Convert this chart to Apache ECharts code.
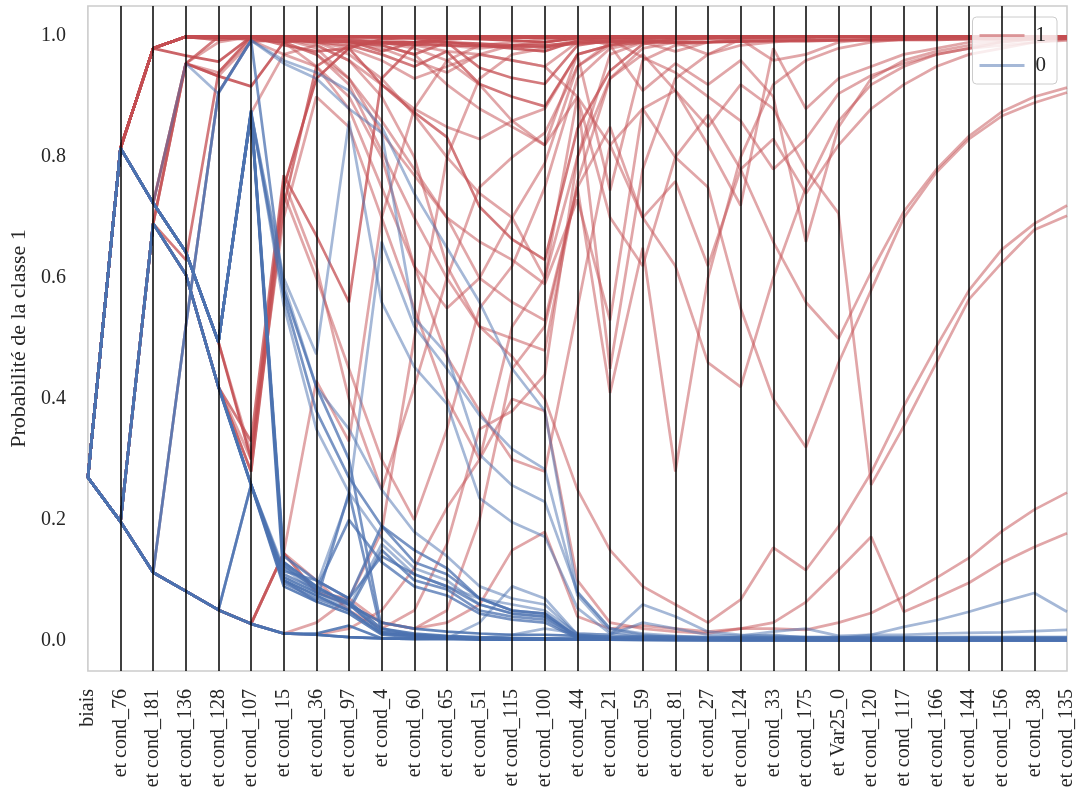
<!DOCTYPE html>
<html>
<head>
<meta charset="utf-8">
<script src="https://cdn.jsdelivr.net/npm/echarts@6/dist/echarts.min.js"></script>
<style>
  html, body { margin: 0; padding: 0; background: #ffffff; }
  #chart { width: 1078px; height: 797px; }
</style>
</head>
<body>
<div id="chart"></div>
<script>
// Steps of the cumulative model: intercept, then each condition added in turn
const categories = [
  'biais', 'et cond_76', 'et cond_181', 'et cond_136', 'et cond_128', 'et cond_107',
  'et cond_15', 'et cond_36', 'et cond_97', 'et cond_4', 'et cond_60', 'et cond_65',
  'et cond_51', 'et cond_115', 'et cond_100', 'et cond_44', 'et cond_21', 'et cond_59',
  'et cond_81', 'et cond_27', 'et cond_124', 'et cond_33', 'et cond_175', 'et Var25_0',
  'et cond_120', 'et cond_117', 'et cond_166', 'et cond_144', 'et cond_156', 'et cond_38',
  'et cond_135'
];

const yTickValues = [0, 0.2, 0.4, 0.6, 0.8, 1.0];

// Predicted probability of class 1 after each step, samples of class 1
const classOnePaths = [
  [0.27, 0.815, 0.98, 0.999, 1, 1, 1, 1, 1, 1, 1, 1, 1, 1, 1, 1, 1, 1, 1, 1, 1, 1, 1, 1, 1, 1, 1, 1, 1, 1, 1],
  [0.27, 0.815, 0.98, 0.999, 0.999, 0.999, 0.998, 0.999, 0.999, 0.999, 0.998, 0.997, 0.995, 0.993, 0.99, 0.997, 0.998, 0.999, 0.999, 0.999, 0.999, 0.999, 0.999, 1, 1, 1, 1, 1, 1, 1, 1],
  [0.27, 0.815, 0.98, 0.968, 0.958, 0.999, 0.999, 0.999, 0.999, 0.998, 0.996, 0.99, 0.985, 0.98, 0.975, 0.993, 0.996, 0.998, 0.997, 0.999, 0.999, 0.999, 0.999, 0.999, 1, 1, 1, 1, 1, 1, 1],
  [0.27, 0.815, 0.724, 0.955, 0.934, 0.917, 0.99, 0.998, 0.999, 0.999, 0.999, 0.998, 0.998, 0.998, 0.997, 0.999, 0.999, 0.999, 0.999, 0.999, 1, 1, 1, 1, 1, 1, 1, 1, 1, 1, 1],
  [0.27, 0.197, 0.69, 0.955, 0.999, 0.999, 0.999, 0.999, 0.999, 0.999, 0.999, 0.999, 0.998, 0.998, 0.998, 0.999, 0.999, 1, 1, 1, 1, 1, 1, 1, 1, 1, 1, 1, 1, 1, 1],
  [0.27, 0.197, 0.69, 0.63, 0.94, 0.999, 0.996, 0.99, 0.992, 0.975, 0.99, 0.995, 0.997, 0.998, 0.998, 0.999, 0.999, 0.999, 0.999, 1, 1, 1, 1, 1, 1, 1, 1, 1, 1, 1, 1],
  [0.27, 0.815, 0.98, 0.999, 0.994, 0.999, 0.985, 0.975, 0.98, 0.92, 0.874, 0.833, 0.718, 0.664, 0.63, 0.847, 0.943, 0.987, 0.995, 0.997, 0.999, 0.999, 0.999, 0.999, 1, 1, 1, 1, 1, 1, 1],
  [0.27, 0.815, 0.98, 0.999, 0.999, 0.994, 0.99, 0.993, 0.99, 0.985, 0.97, 0.99, 0.948, 0.931, 0.921, 0.985, 0.993, 0.997, 0.998, 0.999, 0.999, 0.999, 1, 1, 1, 1, 1, 1, 1, 1, 1],
  [0.27, 0.815, 0.98, 0.999, 0.999, 0.999, 0.995, 0.99, 0.985, 0.97, 0.95, 0.975, 0.921, 0.9, 0.884, 0.97, 0.985, 0.995, 0.998, 0.999, 0.999, 1, 1, 1, 1, 1, 1, 1, 1, 1, 1],
  [0.27, 0.815, 0.724, 0.643, 0.494, 0.3, 0.75, 0.93, 0.98, 0.995, 0.998, 0.999, 0.999, 0.999, 0.999, 0.999, 1, 1, 1, 1, 1, 1, 1, 1, 1, 1, 1, 1, 1, 1, 1],
  [0.27, 0.197, 0.69, 0.606, 0.42, 0.28, 0.72, 0.95, 0.985, 0.99, 0.99, 0.997, 0.999, 0.999, 0.998, 0.999, 0.999, 1, 1, 1, 1, 1, 1, 1, 1, 1, 1, 1, 1, 1, 1],
  [0.27, 0.197, 0.69, 0.606, 0.42, 0.33, 0.77, 0.67, 0.56, 0.93, 0.985, 0.995, 0.997, 0.998, 0.998, 0.999, 0.999, 0.999, 1, 1, 1, 1, 1, 1, 1, 1, 1, 1, 1, 1, 1],
  [0.27, 0.197, 0.113, 0.082, 0.051, 0.028, 0.145, 0.43, 0.33, 0.7, 0.88, 0.96, 0.985, 0.99, 0.995, 0.998, 0.999, 0.999, 1, 1, 1, 1, 1, 1, 1, 1, 1, 1, 1, 1, 1],
  [0.27, 0.197, 0.113, 0.082, 0.051, 0.028, 0.145, 0.08, 0.07, 0.18, 0.5, 0.8, 0.93, 0.97, 0.98, 0.995, 0.998, 0.999, 1, 1, 1, 1, 1, 1, 1, 1, 1, 1, 1, 1, 1],
  [0.27, 0.815, 0.98, 0.999, 0.999, 0.999, 0.995, 0.99, 0.98, 0.96, 0.93, 0.95, 0.97, 0.96, 0.95, 0.9, 0.82, 0.88, 0.8, 0.75, 0.55, 0.4, 0.32, 0.46, 0.58, 0.7, 0.775, 0.83, 0.868, 0.89, 0.907],
  [0.27, 0.815, 0.98, 0.999, 0.999, 0.999, 0.998, 0.995, 0.99, 0.985, 0.97, 0.92, 0.88, 0.85, 0.82, 0.9, 0.7, 0.62, 0.8, 0.87, 0.78, 0.66, 0.56, 0.5, 0.61, 0.71, 0.78, 0.835, 0.875, 0.9, 0.915],
  [0.27, 0.815, 0.724, 0.643, 0.494, 0.873, 0.97, 0.985, 0.96, 0.9, 0.8, 0.62, 0.52, 0.47, 0.4, 0.25, 0.15, 0.09, 0.06, 0.03, 0.068, 0.154, 0.117, 0.189, 0.278, 0.388, 0.487, 0.58, 0.647, 0.69, 0.72],
  [0.27, 0.197, 0.69, 0.955, 0.934, 0.99, 0.995, 0.99, 0.97, 0.93, 0.87, 0.8, 0.74, 0.7, 0.6, 0.8, 0.93, 0.97, 0.91, 0.85, 0.92, 0.88, 0.78, 0.707, 0.258, 0.355, 0.46, 0.565, 0.625, 0.68, 0.703],
  [0.27, 0.197, 0.113, 0.082, 0.051, 0.028, 0.012, 0.01, 0.02, 0.05, 0.12, 0.22, 0.3, 0.4, 0.38, 0.1, 0.03, 0.02, 0.015, 0.012, 0.02, 0.02, 0.018, 0.03, 0.046, 0.073, 0.104, 0.137, 0.181, 0.217, 0.245],
  [0.27, 0.197, 0.113, 0.082, 0.051, 0.028, 0.012, 0.03, 0.07, 0.03, 0.02, 0.03, 0.06, 0.15, 0.18, 0.04, 0.02, 0.025, 0.02, 0.015, 0.02, 0.03, 0.064, 0.117, 0.172, 0.048, 0.071, 0.096, 0.129, 0.155, 0.178],
  [0.27, 0.815, 0.98, 0.999, 0.999, 0.999, 0.999, 0.998, 0.995, 0.99, 0.98, 0.96, 0.92, 0.86, 0.82, 0.97, 0.745, 0.96, 0.985, 0.99, 0.995, 0.997, 0.998, 0.999, 0.999, 1, 1, 1, 1, 1, 1],
  [0.27, 0.197, 0.69, 0.606, 0.42, 0.3, 0.7, 0.9, 0.85, 0.7, 0.55, 0.4, 0.3, 0.52, 0.6, 0.9, 0.45, 0.78, 0.93, 0.97, 0.985, 0.99, 0.995, 0.997, 0.998, 0.999, 0.999, 1, 1, 1, 1],
  [0.27, 0.815, 0.98, 0.999, 0.998, 0.995, 0.99, 0.97, 0.93, 0.86, 0.78, 0.7, 0.6, 0.56, 0.53, 0.75, 0.41, 0.65, 0.28, 0.6, 0.8, 0.92, 0.96, 0.98, 0.99, 0.995, 0.997, 0.998, 0.999, 1, 1],
  [0.27, 0.197, 0.113, 0.52, 0.907, 0.993, 0.97, 0.95, 0.9, 0.8, 0.62, 0.47, 0.38, 0.3, 0.28, 0.55, 0.82, 0.7, 0.62, 0.46, 0.42, 0.6, 0.75, 0.86, 0.92, 0.95, 0.97, 0.98, 0.99, 0.995, 0.997],
  [0.27, 0.815, 0.98, 0.999, 0.999, 0.998, 0.995, 0.985, 0.96, 0.92, 0.88, 0.85, 0.83, 0.86, 0.88, 0.97, 0.985, 0.91, 0.955, 0.92, 0.96, 0.9, 0.66, 0.85, 0.93, 0.96, 0.975, 0.985, 0.99, 0.995, 0.997],
  [0.27, 0.815, 0.98, 0.999, 0.999, 0.999, 0.999, 0.998, 0.995, 0.99, 0.985, 0.975, 0.97, 0.96, 0.95, 0.99, 0.995, 0.965, 0.94, 0.9, 0.86, 0.78, 0.83, 0.905, 0.935, 0.955, 0.97, 0.98, 0.985, 0.99, 0.995],
  [0.27, 0.197, 0.69, 0.955, 0.99, 0.999, 0.995, 0.98, 0.93, 0.84, 0.77, 0.7, 0.66, 0.63, 0.59, 0.73, 0.53, 0.88, 0.91, 0.82, 0.72, 0.98, 0.88, 0.93, 0.95, 0.97, 0.98, 0.99, 0.993, 0.996, 0.998],
  [0.27, 0.815, 0.724, 0.955, 0.94, 0.995, 0.999, 0.999, 0.998, 0.995, 0.99, 0.985, 0.98, 0.985, 0.99, 0.998, 0.99, 0.995, 0.99, 0.97, 0.995, 0.96, 0.97, 0.99, 0.995, 0.997, 0.998, 0.999, 1, 1, 1],
  [0.27, 0.197, 0.113, 0.082, 0.051, 0.028, 0.145, 0.08, 0.06, 0.03, 0.02, 0.05, 0.2, 0.45, 0.52, 0.75, 0.85, 0.7, 0.76, 0.62, 0.78, 0.83, 0.74, 0.82, 0.88, 0.92, 0.95, 0.97, 0.98, 0.99, 0.993],
  [0.27, 0.815, 0.98, 0.999, 0.994, 0.999, 0.99, 0.97, 0.92, 0.81, 0.7, 0.6, 0.52, 0.5, 0.48, 0.76, 0.93, 0.98, 0.99, 0.995, 0.997, 0.998, 0.999, 1, 1, 1, 1, 1, 1, 1, 1],
  [0.27, 0.197, 0.69, 0.606, 0.42, 0.28, 0.74, 0.6, 0.45, 0.3, 0.2, 0.35, 0.55, 0.62, 0.75, 0.93, 0.98, 0.99, 0.995, 0.997, 0.998, 0.999, 0.999, 1, 1, 1, 1, 1, 1, 1, 1],
  [0.27, 0.815, 0.724, 0.643, 0.494, 0.31, 0.76, 0.62, 0.4, 0.25, 0.42, 0.6, 0.75, 0.8, 0.84, 0.95, 0.985, 0.99, 0.995, 0.997, 0.998, 0.999, 0.999, 1, 1, 1, 1, 1, 1, 1, 1],
  [0.27, 0.197, 0.113, 0.082, 0.051, 0.028, 0.145, 0.1, 0.05, 0.02, 0.05, 0.16, 0.35, 0.38, 0.44, 0.8, 0.97, 0.99, 0.995, 0.997, 0.998, 0.999, 0.999, 1, 1, 1, 1, 1, 1, 1, 1],
  [0.27, 0.815, 0.98, 0.999, 0.999, 0.999, 0.99, 0.95, 0.88, 0.75, 0.62, 0.55, 0.6, 0.7, 0.79, 0.95, 0.99, 0.997, 0.998, 0.999, 0.999, 1, 1, 1, 1, 1, 1, 1, 1, 1, 1],
  [0.27, 0.815, 0.98, 0.999, 0.999, 0.999, 0.999, 0.997, 0.99, 0.98, 0.96, 0.94, 0.97, 0.985, 0.99, 0.998, 0.985, 0.99, 0.975, 0.99, 0.996, 0.998, 0.999, 1, 1, 1, 1, 1, 1, 1, 1],
  [0.27, 0.815, 0.98, 0.999, 0.999, 0.999, 0.997, 0.995, 0.993, 0.99, 0.99, 0.99, 0.988, 0.985, 0.985, 0.99, 0.992, 0.993, 0.99, 0.99, 0.992, 0.993, 0.993, 0.994, 0.995, 0.995, 0.996, 0.996, 0.996, 0.997, 0.997],
  [0.27, 0.815, 0.98, 0.999, 0.999, 0.998, 0.995, 0.993, 0.99, 0.988, 0.986, 0.985, 0.984, 0.983, 0.982, 0.988, 0.99, 0.99, 0.989, 0.99, 0.991, 0.992, 0.992, 0.993, 0.993, 0.994, 0.994, 0.995, 0.995, 0.995, 0.996]
];
// Number of samples sharing each class-1 path
const classOneCounts = [10, 5, 3, 3, 2, 2, 2, 2, 2, 3, 2, 2, 1, 1, 1, 1, 1, 1, 1, 1, 1, 1, 1, 1, 1, 1, 1, 1, 1, 1, 1, 1, 1, 1, 1, 3, 3];

// Predicted probability of class 1 after each step, samples of class 0
const classZeroPaths = [
  [0.27, 0.197, 0.113, 0.082, 0.051, 0.028, 0.012, 0.01, 0.006, 0.004, 0.003, 0.003, 0.002, 0.002, 0.002, 0.002, 0.002, 0.002, 0.001, 0.001, 0.001, 0.001, 0.001, 0.001, 0.001, 0.001, 0.001, 0.001, 0.001, 0.001, 0.001],
  [0.27, 0.197, 0.113, 0.082, 0.051, 0.028, 0.012, 0.012, 0.025, 0.004, 0.003, 0.003, 0.003, 0.002, 0.002, 0.002, 0.002, 0.002, 0.002, 0.002, 0.002, 0.002, 0.002, 0.002, 0.002, 0.002, 0.002, 0.002, 0.002, 0.002, 0.002],
  [0.27, 0.815, 0.724, 0.643, 0.494, 0.873, 0.1, 0.075, 0.05, 0.012, 0.008, 0.005, 0.004, 0.003, 0.003, 0.002, 0.002, 0.002, 0.002, 0.001, 0.001, 0.001, 0.001, 0.001, 0.001, 0.001, 0.001, 0.001, 0.001, 0.001, 0.001],
  [0.27, 0.197, 0.69, 0.606, 0.42, 0.258, 0.09, 0.065, 0.045, 0.01, 0.006, 0.004, 0.003, 0.003, 0.002, 0.002, 0.002, 0.001, 0.001, 0.001, 0.001, 0.001, 0.001, 0.001, 0.001, 0.001, 0.001, 0.001, 0.001, 0.001, 0.001],
  [0.27, 0.197, 0.113, 0.082, 0.051, 0.258, 0.095, 0.07, 0.05, 0.15, 0.1, 0.085, 0.05, 0.04, 0.035, 0.005, 0.003, 0.002, 0.002, 0.002, 0.002, 0.002, 0.001, 0.001, 0.001, 0.001, 0.001, 0.001, 0.001, 0.001, 0.001],
  [0.27, 0.815, 0.724, 0.643, 0.494, 0.877, 0.14, 0.1, 0.07, 0.19, 0.13, 0.11, 0.07, 0.05, 0.045, 0.006, 0.003, 0.002, 0.002, 0.002, 0.002, 0.002, 0.002, 0.001, 0.001, 0.001, 0.001, 0.001, 0.001, 0.001, 0.001],
  [0.27, 0.815, 0.724, 0.643, 0.494, 0.877, 0.555, 0.35, 0.245, 0.17, 0.12, 0.1, 0.06, 0.045, 0.04, 0.005, 0.003, 0.002, 0.002, 0.002, 0.002, 0.002, 0.002, 0.002, 0.002, 0.002, 0.002, 0.002, 0.002, 0.002, 0.002],
  [0.27, 0.815, 0.724, 0.955, 0.905, 0.993, 0.955, 0.93, 0.88, 0.84, 0.534, 0.474, 0.308, 0.257, 0.23, 0.081, 0.02, 0.01, 0.006, 0.004, 0.003, 0.003, 0.002, 0.002, 0.002, 0.002, 0.002, 0.002, 0.002, 0.002, 0.002],
  [0.27, 0.197, 0.113, 0.52, 0.907, 0.993, 0.96, 0.94, 0.91, 0.85, 0.74, 0.65, 0.56, 0.45, 0.38, 0.08, 0.02, 0.012, 0.008, 0.005, 0.004, 0.003, 0.003, 0.002, 0.002, 0.002, 0.002, 0.002, 0.002, 0.002, 0.002],
  [0.27, 0.815, 0.724, 0.643, 0.494, 0.873, 0.6, 0.474, 0.86, 0.56, 0.453, 0.392, 0.236, 0.196, 0.172, 0.054, 0.012, 0.006, 0.004, 0.003, 0.003, 0.002, 0.002, 0.002, 0.002, 0.002, 0.002, 0.002, 0.002, 0.002, 0.002],
  [0.27, 0.197, 0.69, 0.606, 0.42, 0.258, 0.12, 0.09, 0.24, 0.66, 0.52, 0.45, 0.373, 0.317, 0.284, 0.075, 0.015, 0.008, 0.005, 0.004, 0.003, 0.003, 0.002, 0.002, 0.002, 0.002, 0.002, 0.002, 0.002, 0.002, 0.002],
  [0.27, 0.815, 0.724, 0.643, 0.494, 0.873, 0.13, 0.09, 0.06, 0.015, 0.01, 0.007, 0.005, 0.004, 0.003, 0.002, 0.002, 0.002, 0.002, 0.002, 0.001, 0.001, 0.001, 0.001, 0.001, 0.001, 0.001, 0.001, 0.001, 0.001, 0.001],
  [0.27, 0.197, 0.69, 0.606, 0.42, 0.258, 0.1, 0.065, 0.245, 0.012, 0.008, 0.005, 0.004, 0.003, 0.003, 0.002, 0.002, 0.002, 0.002, 0.002, 0.002, 0.002, 0.002, 0.002, 0.002, 0.002, 0.002, 0.002, 0.002, 0.002, 0.002],
  [0.27, 0.197, 0.113, 0.082, 0.051, 0.258, 0.11, 0.085, 0.2, 0.13, 0.09, 0.075, 0.045, 0.035, 0.03, 0.004, 0.002, 0.002, 0.002, 0.002, 0.002, 0.002, 0.002, 0.002, 0.002, 0.002, 0.002, 0.002, 0.002, 0.002, 0.002],
  [0.27, 0.197, 0.113, 0.082, 0.051, 0.028, 0.012, 0.01, 0.006, 0.004, 0.003, 0.004, 0.03, 0.09, 0.07, 0.01, 0.005, 0.004, 0.003, 0.004, 0.006, 0.01, 0.005, 0.004, 0.01, 0.023, 0.034, 0.048, 0.064, 0.079, 0.048],
  [0.27, 0.197, 0.113, 0.082, 0.051, 0.028, 0.012, 0.01, 0.006, 0.004, 0.003, 0.003, 0.005, 0.01, 0.02, 0.012, 0.01, 0.03, 0.02, 0.01, 0.008, 0.015, 0.02, 0.008, 0.01, 0.01, 0.012, 0.013, 0.014, 0.016, 0.018],
  [0.27, 0.815, 0.724, 0.643, 0.494, 0.873, 0.12, 0.08, 0.055, 0.16, 0.11, 0.09, 0.07, 0.06, 0.05, 0.012, 0.01, 0.06, 0.04, 0.015, 0.01, 0.008, 0.006, 0.005, 0.005, 0.004, 0.004, 0.004, 0.004, 0.004, 0.004],
  [0.27, 0.197, 0.113, 0.52, 0.907, 0.993, 0.58, 0.42, 0.3, 0.02, 0.01, 0.006, 0.004, 0.003, 0.003, 0.002, 0.002, 0.002, 0.002, 0.002, 0.002, 0.002, 0.002, 0.002, 0.002, 0.002, 0.002, 0.002, 0.002, 0.002, 0.002],
  [0.27, 0.815, 0.724, 0.643, 0.494, 0.873, 0.57, 0.38, 0.27, 0.19, 0.15, 0.12, 0.07, 0.05, 0.045, 0.007, 0.003, 0.002, 0.002, 0.002, 0.002, 0.002, 0.002, 0.002, 0.002, 0.002, 0.002, 0.002, 0.002, 0.002, 0.002],
  [0.27, 0.815, 0.724, 0.643, 0.494, 0.877, 0.125, 0.085, 0.065, 0.02, 0.012, 0.008, 0.006, 0.005, 0.004, 0.004, 0.003, 0.003, 0.003, 0.003, 0.003, 0.003, 0.003, 0.003, 0.003, 0.003, 0.003, 0.003, 0.003, 0.003, 0.003],
  [0.27, 0.197, 0.69, 0.606, 0.42, 0.258, 0.115, 0.1, 0.07, 0.14, 0.11, 0.09, 0.06, 0.045, 0.04, 0.008, 0.005, 0.005, 0.004, 0.004, 0.004, 0.004, 0.004, 0.004, 0.004, 0.004, 0.004, 0.004, 0.004, 0.004, 0.004],
  [0.27, 0.815, 0.724, 0.643, 0.494, 0.873, 0.59, 0.42, 0.35, 0.25, 0.18, 0.14, 0.09, 0.07, 0.06, 0.01, 0.006, 0.005, 0.004, 0.004, 0.003, 0.003, 0.003, 0.003, 0.003, 0.003, 0.003, 0.003, 0.003, 0.003, 0.003],
  [0.27, 0.197, 0.69, 0.606, 0.42, 0.258, 0.105, 0.08, 0.06, 0.03, 0.02, 0.015, 0.012, 0.01, 0.01, 0.008, 0.007, 0.007, 0.007, 0.006, 0.006, 0.006, 0.006, 0.006, 0.006, 0.006, 0.006, 0.006, 0.006, 0.006, 0.006]
];
// Number of samples sharing each class-0 path
const classZeroCounts = [8, 3, 4, 3, 2, 2, 1, 1, 1, 1, 1, 4, 2, 2, 1, 1, 1, 2, 2, 3, 2, 1, 3];

const FONT = 'Liberation Serif';
const TEXT_COLOR = '#262626';
const RED_RGB = '196,78,82';
const BLUE_RGB = '76,114,176';
const LINE_ALPHA = 0.5;

// One polyline per path; paths shared by several samples get the stacked opacity
function pathSeries(name, rgb, values, count) {
  return {
    name: name,
    type: 'line',
    data: values,
    color: 'rgb(' + rgb + ')',
    showSymbol: false,
    symbol: 'none',
    silent: true,
    z: 2,
    lineStyle: { color: 'rgb(' + rgb + ')', width: 2.7, opacity: 1 - Math.pow(1 - LINE_ALPHA, count) },
    emphasis: { disabled: true }
  };
}

const series = [];
classOnePaths.forEach((p, i) => series.push(pathSeries('1', RED_RGB, p, classOneCounts[i])));
classZeroPaths.forEach((p, i) => series.push(pathSeries('0', BLUE_RGB, p, classZeroCounts[i])));

// Black vertical guide at each step, drawn above the paths
series.push({
  name: 'guides',
  type: 'line',
  data: [],
  silent: true,
  z: 3,
  markLine: {
    silent: true,
    animation: false,
    symbol: ['none', 'none'],
    label: { show: false },
    emphasis: { disabled: true },
    lineStyle: { color: '#000000', width: 1.5, type: 'solid', opacity: 1 },
    data: categories.slice(1, -1).map(c => ({ xAxis: c }))
  }
});

const chart = echarts.init(document.getElementById('chart'), null, { renderer: 'canvas' });
chart.setOption({
  animation: false,
  backgroundColor: '#ffffff',
  textStyle: { fontFamily: FONT, color: TEXT_COLOR },
  grid: {
    left: 84, right: 11, top: 6, bottom: 126,
    show: true, borderColor: '#cccccc', borderWidth: 1.6, backgroundColor: 'transparent'
  },
  legend: {
    right: 21, top: 17,
    orient: 'vertical',
    icon: 'rect',
    itemWidth: 45, itemHeight: 3, itemGap: 9,
    padding: [8, 11, 8, 7],
    backgroundColor: 'rgba(255,255,255,0.8)',
    borderColor: '#cccccc', borderWidth: 1, borderRadius: 4,
    selectedMode: false,
    textStyle: { fontFamily: FONT, fontSize: 21, color: TEXT_COLOR, padding: [0, 0, 0, 6] },
    data: [
      { name: '1', itemStyle: { color: 'rgba(' + RED_RGB + ',0.5)', opacity: 1 } },
      { name: '0', itemStyle: { color: 'rgba(' + BLUE_RGB + ',0.5)', opacity: 1 } }
    ]
  },
  xAxis: {
    type: 'category',
    data: categories,
    boundaryGap: false,
    axisLine: { show: false },
    axisTick: { show: false },
    splitLine: { show: false },
    axisLabel: { rotate: 90, interval: 0, fontSize: 20, fontFamily: FONT, color: TEXT_COLOR, margin: 18 }
  },
  yAxis: {
    type: 'value',
    min: -0.05, max: 1.05,
    splitLine: { show: false },
    axisLine: { show: false },
    axisTick: { show: false },
    axisLabel: {
      customValues: yTickValues,
      formatter: v => v.toFixed(1),
      fontSize: 20, fontFamily: FONT, color: TEXT_COLOR, margin: 22
    },
    name: 'Probabilité de la classe 1',
    nameLocation: 'middle',
    nameGap: 57,
    nameTextStyle: { fontSize: 22, fontFamily: FONT, color: TEXT_COLOR }
  },
  series: series
});
</script>
</body>
</html>
